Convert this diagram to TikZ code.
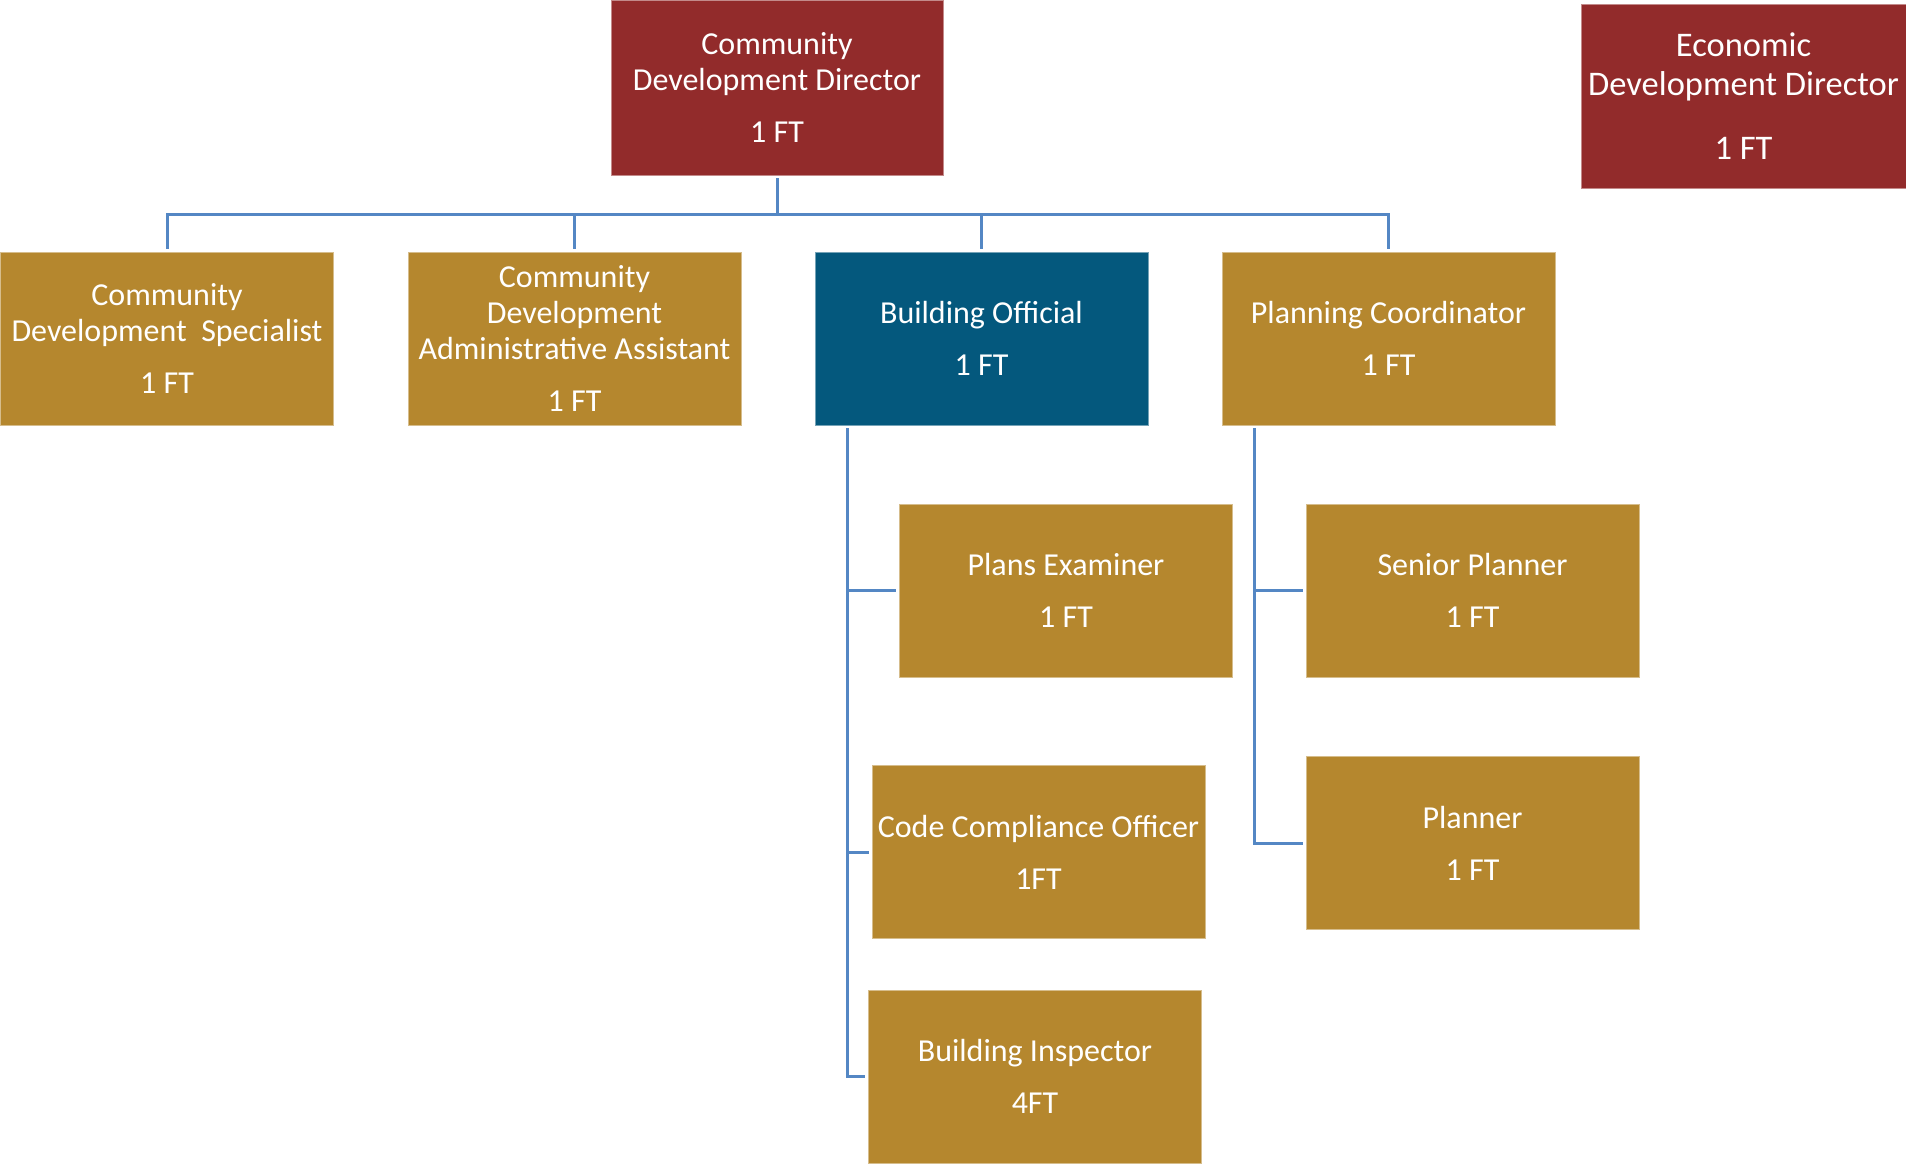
\documentclass[tikz,border=0pt]{standalone}
\usepackage{fontspec}
\setmainfont{Carlito}
\definecolor{dirred}{RGB}{146,43,43}
\definecolor{staffgold}{RGB}{181,135,46}
\definecolor{leadblue}{RGB}{4,88,125}
\definecolor{linkblue}{RGB}{84,135,196}
\tikzset{
  post/.style={rectangle, inner sep=0pt, text=white, align=center,
    draw=#1!55!white, line width=0.8pt, fill=#1,
    font=\fontsize{32}{36}\selectfont},
  box/.style={minimum width=333pt, minimum height=173pt},
  conn/.style={draw=linkblue, line width=3pt, shorten >=3pt}
}
\begin{document}
\begin{tikzpicture}[x=1pt, y=-1pt]
\useasboundingbox (0,0) rectangle (1906,1163);

% directors
\node[post=dirred, minimum width=332pt, minimum height=175pt] (dir) at (777,87.5)
  {Community\\Development Director\\[16pt]1 FT};
\node[post=dirred, minimum width=325pt, minimum height=184pt,
      font=\fontsize{34.5}{39}\selectfont] (econ) at (1743.5,96)
  {Economic\\Development Director\\[25pt]1 FT};

% second row
\node[post=staffgold, box] (cds) at (167,338.5)
  {Community\\Development \ Specialist\\[16pt]1 FT};
\node[post=staffgold, box] (cdaa) at (574.5,338.5)
  {Community\\Development\\Administrative Assistant\\[16pt]1 FT};
\node[post=leadblue, box] (bo) at (981.5,338.5)
  {Building Official\\[16pt]1 FT};
\node[post=staffgold, box] (pc) at (1388.5,338.5)
  {Planning Coordinator\\[16pt]1 FT};

% building division
\node[post=staffgold, box] (pe) at (1066,590.5)
  {Plans Examiner\\[16pt]1 FT};
\node[post=staffgold, box] (cco) at (1038.5,852)
  {Code Compliance Officer\\[16pt]1FT};
\node[post=staffgold, box] (bi) at (1035,1076.5)
  {Building Inspector\\[16pt]4FT};

% planning division
\node[post=staffgold, box] (sp) at (1472.5,590.5)
  {Senior Planner\\[16pt]1 FT};
\node[post=staffgold, box] (pl) at (1472.5,843)
  {Planner\\[16pt]1 FT};

% reporting lines from the director
\coordinate (bus) at (777,214);
\draw[conn, shorten >=0pt, shorten <=3pt] (dir.south) -- (bus);
\draw[conn] (bus) -| (cds.north);
\draw[conn] (bus) -| (cdaa.north);
\draw[conn] (bus) -| (bo.north);
\draw[conn] (bus) -| (pc.north);

% building official branch
\coordinate (bostem) at (847,428);
\draw[conn] (bostem) |- (pe.west);
\draw[conn] (bostem) |- (cco.west);
\draw[conn] (bostem) |- (bi.west);

% planning coordinator branch
\coordinate (pcstem) at (1254,428);
\draw[conn] (pcstem) |- (sp.west);
\draw[conn] (pcstem) |- (pl.west);
\end{tikzpicture}
\end{document}
